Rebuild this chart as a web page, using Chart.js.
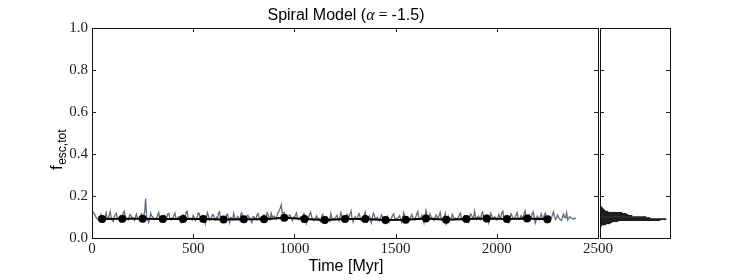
<!DOCTYPE html>
<html>
<head>
<meta charset="utf-8">
<script src="https://cdn.jsdelivr.net/npm/chart.js@4/dist/chart.umd.min.js"></script>
<style>
  body { margin: 0; background: #fff; }
  #wrap { position: relative; width: 747px; height: 280px; }
  #wrap canvas { position: absolute; left: 0; top: 0; }
</style>
</head>
<body>
<div id="wrap">
  <canvas id="main" width="747" height="280"></canvas>
  <canvas id="hist" width="747" height="280"></canvas>
</div>
<script>
// escape fraction, sampled every 5 Myr from t = 0
const sampleStart = 0;
const sampleStep = 5;
const fescSeries = [
  0.132,0.124,0.117,0.109,0.098,0.091,0.087,0.102,0.095,0.113,
  0.104,0.088,0.085,0.097,0.119,0.093,0.090,0.108,0.126,0.094,
  0.084,0.079,0.101,0.112,0.118,0.096,0.093,0.086,0.078,0.099,
  0.103,0.121,0.128,0.097,0.091,0.089,0.086,0.107,0.112,0.098,
  0.098,0.092,0.084,0.103,0.114,0.095,0.091,0.087,0.106,0.115,
  0.093,0.101,0.124,0.188,0.097,0.089,0.074,0.092,0.118,0.104,
  0.101,0.090,0.087,0.094,0.095,0.112,0.122,0.089,0.091,0.084,
  0.078,0.096,0.107,0.088,0.099,0.115,0.117,0.092,0.086,0.095,
  0.093,0.110,0.119,0.091,0.088,0.100,0.102,0.083,0.074,0.106,
  0.111,0.095,0.096,0.123,0.127,0.098,0.089,0.093,0.094,0.085,
  0.108,0.099,0.083,0.091,0.099,0.120,0.116,0.090,0.087,0.102,
  0.104,0.089,0.068,0.095,0.121,0.107,0.085,0.093,0.097,0.111,
  0.110,0.093,0.086,0.099,0.094,0.117,0.125,0.096,0.082,0.090,
  0.100,0.088,0.091,0.109,0.113,0.094,0.074,0.098,0.096,0.087,
  0.118,0.100,0.088,0.095,0.103,0.091,0.084,0.112,0.120,0.097,
  0.093,0.086,0.087,0.105,0.109,0.099,0.095,0.082,0.073,0.101,
  0.102,0.094,0.089,0.110,0.117,0.098,0.093,0.088,0.084,0.106,
  0.111,0.092,0.098,0.121,0.112,0.095,0.087,0.118,0.099,0.104,
  0.104,0.096,0.090,0.108,0.122,0.131,0.142,0.158,0.119,0.118,
  0.122,0.097,0.088,0.091,0.094,0.110,0.107,0.092,0.083,0.099,
  0.096,0.108,0.119,0.095,0.087,0.093,0.101,0.097,0.092,0.116,
  0.114,0.090,0.070,0.089,0.097,0.112,0.123,0.101,0.089,0.086,
  0.085,0.098,0.106,0.090,0.094,0.083,0.078,0.103,0.112,0.095,
  0.091,0.087,0.100,0.092,0.084,0.079,0.117,0.096,0.088,0.093,
  0.095,0.101,0.108,0.093,0.082,0.099,0.121,0.104,0.093,0.088,
  0.087,0.094,0.113,0.107,0.098,0.116,0.129,0.093,0.076,0.091,
  0.102,0.095,0.090,0.108,0.116,0.097,0.083,0.089,0.097,0.110,
  0.124,0.099,0.089,0.094,0.105,0.087,0.072,0.097,0.118,0.108,
  0.087,0.092,0.099,0.085,0.081,0.096,0.110,0.101,0.094,0.088,
  0.071,0.086,0.103,0.092,0.078,0.090,0.096,0.107,0.115,0.098,
  0.088,0.094,0.092,0.099,0.106,0.089,0.074,0.093,0.120,0.104,
  0.091,0.096,0.097,0.088,0.086,0.099,0.112,0.096,0.093,0.087,
  0.101,0.114,0.126,0.098,0.089,0.095,0.108,0.093,0.073,0.101,
  0.131,0.112,0.087,0.095,0.115,0.102,0.096,0.089,0.083,0.096,
  0.110,0.101,0.092,0.107,0.122,0.095,0.086,0.094,0.099,0.117,
  0.070,0.088,0.104,0.093,0.091,0.096,0.113,0.101,0.089,0.095,
  0.088,0.094,0.097,0.111,0.119,0.093,0.085,0.098,0.106,0.092,
  0.093,0.087,0.076,0.097,0.114,0.109,0.099,0.094,0.127,0.103,
  0.090,0.099,0.104,0.091,0.087,0.115,0.123,0.097,0.096,0.106,
  0.110,0.094,0.072,0.090,0.118,0.107,0.092,0.096,0.101,0.089,
  0.086,0.098,0.112,0.099,0.095,0.121,0.128,0.094,0.089,0.092,
  0.103,0.088,0.074,0.097,0.116,0.105,0.094,0.091,0.099,0.108,
  0.121,0.096,0.088,0.093,0.107,0.099,0.092,0.117,0.130,0.102,
  0.085,0.095,0.111,0.098,0.097,0.115,0.124,0.093,0.071,0.088,
  0.104,0.096,0.087,0.101,0.115,0.094,0.093,0.110,0.119,0.097,
  0.075,0.090,0.101,0.092,0.096,0.109,0.125,0.104,0.088,0.093,
  0.109,0.099,0.091,0.086,0.084,0.102,0.113,0.096,0.097,0.120,
  0.086,0.093,0.102,0.098,0.094,0.091,0.089,0.096,0.092
];

// 100 Myr bin averages
const binTimes = [50,150,250,350,450,550,650,750,850,950,1050,1150,
                  1250,1350,1450,1550,1650,1750,1850,1950,2050,2150,2250];
const binMeans = [0.090,0.092,0.092,0.091,0.091,0.090,0.088,0.089,0.089,0.097,0.091,0.086,
                  0.091,0.091,0.086,0.087,0.093,0.087,0.090,0.093,0.090,0.093,0.089];

// side histogram of f_esc
const histCenters = [0.055,0.060,0.065,0.070,0.075,0.080,0.085,0.090,0.095,0.100,
                     0.105,0.110,0.115,0.120,0.125,0.130,0.135,0.140,0.145,0.150];
const histCounts  = [1,2,6,10,12,18,60,66,50,46,
                     32,28,26,22,8,5,4,3,2,1];

const xTicks = [0,500,1000,1500,2000,2500];
const yTicks = [0.0,0.2,0.4,0.6,0.8,1.0];

const serif = "'Liberation Serif', 'DejaVu Serif', serif";
const sans = "'Liberation Sans', Arial, sans-serif";

const seriesPoints = fescSeries.map((v, i) => ({ x: sampleStart + i * sampleStep, y: v }));
const binPoints = binTimes.map((t, i) => ({ x: t, y: binMeans[i] }));

function innerTicks(chart, showX) {
  const ctx = chart.ctx;
  const a = chart.chartArea;
  const ys = chart.scales.y;
  ctx.save();
  ctx.strokeStyle = '#222';
  ctx.lineWidth = 1;
  ctx.beginPath();
  yTicks.forEach(v => {
    const py = Math.round(ys.getPixelForValue(v)) + 0.5;
    ctx.moveTo(a.left, py); ctx.lineTo(a.left + 4, py);
    ctx.moveTo(a.right, py); ctx.lineTo(a.right - 4, py);
  });
  if (showX) {
    const xs = chart.scales.x;
    xTicks.forEach(v => {
      const px = Math.round(xs.getPixelForValue(v)) + 0.5;
      ctx.moveTo(px, a.top); ctx.lineTo(px, a.top + 4);
      ctx.moveTo(px, a.bottom); ctx.lineTo(px, a.bottom - 4);
    });
  }
  ctx.stroke();
  ctx.strokeStyle = '#111';
  ctx.strokeRect(a.left + 0.5, a.top + 0.5, a.right - a.left, a.bottom - a.top);
  ctx.restore();
}

const decorMain = {
  id: 'decorMain',
  afterDraw(chart) {
    const ctx = chart.ctx;
    innerTicks(chart, true);
    ctx.save();
    ctx.fillStyle = '#000';
    ctx.textBaseline = 'alphabetic';

    // title, with math part in serif
    const parts = [
      { t: 'Spiral Model (', f: '16px ' + sans },
      { t: '\u03b1', f: 'italic 16px ' + serif },
      { t: ' = ', f: '16px ' + serif },
      { t: '-1.5)', f: '16px ' + sans }
    ];
    let w = 0;
    parts.forEach(p => { ctx.font = p.f; p.w = ctx.measureText(p.t).width; w += p.w; });
    let x = 346 - w / 2;
    ctx.textAlign = 'left';
    parts.forEach(p => { ctx.font = p.f; ctx.fillText(p.t, x, 20); x += p.w; });

    // x axis label
    ctx.font = '16px ' + sans;
    ctx.textAlign = 'center';
    ctx.fillText('Time [Myr]', 346, 271);

    // y axis label f_esc,tot
    ctx.translate(62, 150);
    ctx.rotate(-Math.PI / 2);
    ctx.textAlign = 'left';
    ctx.font = '17px ' + sans;
    const wf = ctx.measureText('f').width;
    ctx.font = '12px ' + sans;
    const ws = ctx.measureText('esc,tot').width;
    const x0 = -(wf + ws) / 2;
    ctx.font = '17px ' + sans;
    ctx.fillText('f', x0, 0);
    ctx.font = '12px ' + sans;
    ctx.fillText('esc,tot', x0 + wf + 0.5, 4);
    ctx.restore();
  }
};

const decorHist = {
  id: 'decorHist',
  afterDraw(chart) { innerTicks(chart, false); }
};

new Chart(document.getElementById('main'), {
  type: 'line',
  data: {
    datasets: [
      {
        data: binPoints,
        borderColor: '#000',
        backgroundColor: '#000',
        borderWidth: 2,
        pointRadius: 4,
        pointBorderWidth: 0,
        order: 0
      },
      {
        data: seriesPoints,
        borderColor: '#646c7c',
        borderWidth: 1.3,
        pointRadius: 0,
        tension: 0,
        order: 1
      }
    ]
  },
  options: {
    responsive: false,
    animation: false,
    devicePixelRatio: 1,
    layout: { padding: { left: 0, right: 149, top: 28, bottom: 0 } },
    plugins: { legend: { display: false }, tooltip: { enabled: false } },
    scales: {
      x: {
        type: 'linear',
        min: 0, max: 2500,
        afterBuildTicks: s => { s.ticks = xTicks.map(v => ({ value: v })); },
        afterFit: s => { s.height = 42; },
        grid: { display: false, drawTicks: false },
        border: { display: false },
        ticks: { font: { family: serif, size: 15 }, color: '#222', padding: 2, maxRotation: 0,
                 callback: v => String(v) }
      },
      y: {
        min: 0, max: 1,
        afterBuildTicks: s => { s.ticks = yTicks.map(v => ({ value: v })); },
        afterFit: s => { s.width = 92; },
        grid: { display: false, drawTicks: false },
        border: { display: false },
        ticks: { font: { family: serif, size: 15 }, color: '#222', padding: 4,
                 callback: v => Number(v).toFixed(1) }
      }
    }
  },
  plugins: [decorMain]
});

new Chart(document.getElementById('hist'), {
  type: 'bar',
  data: {
    datasets: [{
      data: histCenters.map((c, i) => ({ x: histCounts[i], y: c })),
      backgroundColor: '#1e1e1e',
      borderWidth: 0,
      barPercentage: 1,
      categoryPercentage: 1,
      grouped: false
    }]
  },
  options: {
    indexAxis: 'y',
    responsive: false,
    animation: false,
    devicePixelRatio: 1,
    layout: { padding: { left: 600, right: 77, top: 28, bottom: 42 } },
    plugins: { legend: { display: false }, tooltip: { enabled: false } },
    scales: {
      x: { type: 'linear', min: 0, max: 70, display: false },
      y: { type: 'linear', min: 0, max: 1, display: false, offset: false }
    }
  },
  plugins: [decorHist]
});
</script>
</body>
</html>
